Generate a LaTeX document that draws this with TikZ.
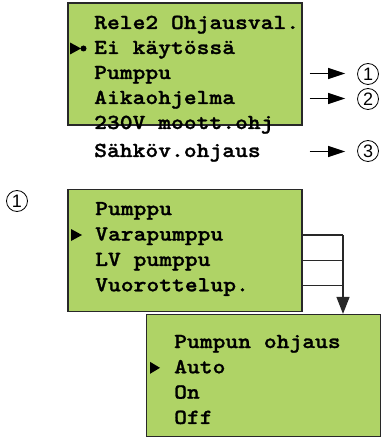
\documentclass[tikz,border=0pt]{standalone}
\usepackage{fontspec}
\setmainfont{Liberation Sans}
\newfontfamily\lcdfam{lmmonolt10-bold.otf}[FakeStretch=1.14,FakeBold=1.2]
\usepackage{xcolor}
\usepackage{tikz}
\usetikzlibrary{arrows.meta,calc,positioning}
\definecolor{lcd}{RGB}{175,211,102}
\definecolor{rim}{RGB}{40,40,40}
\newcommand{\lcdfont}{\fontsize{21.4}{25}\selectfont\lcdfam}

\begin{document}
\begin{tikzpicture}[x=1pt,y=-1pt,
  lcd box/.style={draw=rim,line width=1.2pt,fill=lcd,inner sep=0,minimum width=234pt,minimum height=122pt},
  row/.style={font=\lcdfont,anchor=base west,inner sep=0,text height=11pt,text depth=0pt},
  num/.style={draw,circle,line width=0.8pt,minimum size=21pt,inner sep=0,font=\fontsize{18}{18}\selectfont},
  link/.style={line width=1.3pt,-{Triangle[length=17pt,width=11pt]}}]
  \useasboundingbox (0,0) rectangle (381,446);
  \node[lcd box] (m1) at (185,64) {};
  \node[lcd box] (m2) at (185,250.5) {};
  \node[lcd box] (m3) at (263.3,375.5) {};
  \foreach \t [count=\i] in {Rele2 Ohjausval.,Ei käytössä,Pumppu,Aikaohjelma,230V moott.ohj} \node[row] (a\i) at (94,4+25*\i) {\t};
  \node[row] (a6) at (94,157) {Sähköv.ohjaus};
  \foreach \t [count=\i] in {Pumppu,Varapumppu,LV pumppu,Vuorottelup.} \node[row] (b\i) at (95,{189.7+25.4*\i}) {\t};
  \foreach \t [count=\i] in {Pumpun ohjaus,Auto,On,Off} \node[row] (c\i) at (174,{322.7+25.3*\i}) {\t};
  \foreach \r in {a2,b2} \fill ($(\r.west)+(-24,-6)$) -- ++(11,6) -- ++(-11,6) -- cycle;
  \fill ($(c2.west)+(-24,-6)$) -- ++(10,6) -- ++(-10,6) -- cycle;
  \fill ($(a2.west)+(-10.5,0)$) circle (3pt);
  \node[num] (n1) at (368,74) {1}; \node[num] (n2) at (368,99) {2}; \node[num] (n3) at (368,151) {3};
  \node[num] (n0) at (17,201) {1};
  \foreach \r/\n in {a3/n1,a4/n2,a6/n3} \draw[link,shorten <=7pt,shorten >=12pt] (\r.east -| m1.east) -- (\r.east -| \n.west);
  \coordinate (bus) at (343,235.5);
  \foreach \r in {b2,b3,b4} \draw[line width=1.2pt,rim] (\r.east -| m2.east) -- (\r.east -| bus);
  \draw[link,rim,-{Triangle[length=17pt,width=13pt]}] (b2.east -| bus) -- (bus |- m3.north);
\end{tikzpicture}
\end{document}
